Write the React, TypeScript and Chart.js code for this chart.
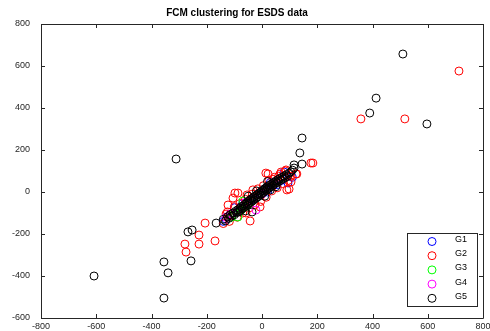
import React, { useEffect, useRef } from 'react';
import { Chart, registerables } from 'chart.js';

Chart.register(...registerables);

const TITLE = 'FCM clustering for ESDS data';
const X_MIN = -800;
const X_MAX = 800;
const Y_MIN = -600;
const Y_MAX = 800;
const TICK_STEP = 200;

const seriesLabels = ['G1', 'G2', 'G3', 'G4', 'G5'];
const seriesColors = ['#0000ff', '#ff0000', '#00ff00', '#ff00ff', '#000000'];

const g1Points: number[][] = [
  [94, 43], [70, 55], [30, 45], [-10, -5], [-40, -40], [-130, -130], [-100, -75],
  [55, 35], [10, 15], [-70, -55], [110, 70], [80, 95], [-140, -140], [20, 0],
];

const g2Points: number[][] = [
  [713, 576], [358, 348], [517, 348], [184, 138], [126, 86], [98, 14], [22, 86],
  [-98, -5], [-54, -14], [-43, -138], [-123, -119], [-206, -148], [-228, -205],
  [-228, -248], [-279, -248], [-275, -286], [-170, -233], [-123, -62], [-105, -29],
  [-116, -109], [-58, -100], [-87, -5], [-33, 10], [-7, -71], [87, 105], [105, 48],
  [14, 90], [69, 95], [123, 86], [177, 138], [90, 10],
  [-130, -105], [-118, -140], [-100, -70], [-90, -120], [-80, -55], [-70, -100],
  [-60, -35], [-45, -75], [-35, -10], [-25, -60], [-15, 15], [-5, -45], [5, 30],
  [15, -25], [25, 55], [35, 5], [45, 70], [55, 20], [65, 85], [75, 40], [85, 100],
  [95, 55], [105, 75], [40, 60], [60, 75], [-140, -150], [-125, -95],
];

const g3Points: number[][] = [
  [-87, -119], [-69, -43], [-100, -100], [-80, -90], [-60, -70], [-75, -85],
  [-110, -120], [-50, -60],
];

const g4Points: number[][] = [
  [-22, -86], [-130, -120], [-90, -95], [-60, -50], [-30, -30], [0, -10], [20, 20],
  [40, 35], [-115, -105],
];

const g5Points: number[][] = [
  [510, 657], [390, 376], [413, 447], [597, 324], [145, 257], [137, 186], [145, 133],
  [116, 114], [116, 129], [-311, 157], [-608, -400], [-355, -333], [-340, -385],
  [-355, -505], [-257, -328], [-268, -190], [-253, -181], [-166, -148], [-36, -95],
  [-140, -130], [-132, -138], [-125, -118], [-120, -125], [-115, -108], [-110, -115],
  [-105, -100], [-100, -108], [-96, -92], [-92, -98], [-88, -85], [-85, -95],
  [-80, -78], [-78, -88], [-75, -70], [-72, -80], [-68, -66], [-65, -74], [-62, -58],
  [-60, -68], [-56, -52], [-54, -62], [-50, -45], [-48, -55], [-45, -40], [-42, -50],
  [-40, -33], [-36, -44], [-33, -28], [-30, -38], [-27, -22], [-24, -32], [-20, -15],
  [-18, -26], [-15, -10], [-12, -20], [-9, -4], [-6, -14], [-3, 2], [0, -8], [3, 8],
  [5, -2], [8, 14], [10, 4], [13, 18], [16, 9], [18, 24], [21, 14], [24, 30], [27, 20],
  [30, 34], [33, 26], [36, 40], [40, 32], [43, 46], [46, 38], [50, 52], [54, 44],
  [57, 58], [60, 50], [64, 64], [68, 56], [72, 70], [76, 62], [80, 76], [84, 68],
  [88, 82], [92, 74], [98, 90], [104, 96], [110, 104], [-20, 5], [10, -20], [30, 10],
  [-50, -20], [-60, -90], [20, 50], [50, 25],
];

const allSeries = [g1Points, g2Points, g3Points, g4Points, g5Points];

const FONT = '"Liberation Sans", Arial, Helvetica, sans-serif';
const AXIS_COLOR = '#262626';

const boxPlugin = {
  id: 'matlabBox',
  afterDraw(chart: any) {
    const { ctx, chartArea, scales } = chart;
    const { left, right, top, bottom } = chartArea;
    ctx.save();
    ctx.strokeStyle = AXIS_COLOR;
    ctx.lineWidth = 1;
    ctx.beginPath();
    ctx.rect(Math.round(left) + 0.5, Math.round(top) + 0.5, Math.round(right - left), Math.round(bottom - top));
    ctx.stroke();
    const tl = 4;
    ctx.beginPath();
    scales.x.ticks.forEach((t: any) => {
      const px = Math.round(scales.x.getPixelForValue(t.value)) + 0.5;
      ctx.moveTo(px, bottom);
      ctx.lineTo(px, bottom - tl);
      ctx.moveTo(px, top);
      ctx.lineTo(px, top + tl);
    });
    scales.y.ticks.forEach((t: any) => {
      const py = Math.round(scales.y.getPixelForValue(t.value)) + 0.5;
      ctx.moveTo(left, py);
      ctx.lineTo(left + tl, py);
      ctx.moveTo(right, py);
      ctx.lineTo(right - tl, py);
    });
    ctx.stroke();

    // title
    ctx.fillStyle = '#000000';
    ctx.font = `bold 10px ${FONT}`;
    ctx.textAlign = 'center';
    ctx.textBaseline = 'middle';
    ctx.fillText(TITLE, 237, 13);

    // legend
    const lx = 407.5, ly = 233.5, lw = 70, lh = 73;
    ctx.fillStyle = '#ffffff';
    ctx.fillRect(lx, ly, lw, lh);
    ctx.strokeStyle = AXIS_COLOR;
    ctx.strokeRect(lx, ly, lw, lh);
    chart.data.datasets.forEach((ds: any, i: number) => {
      const cy = 241.5 + i * 14.2;
      ctx.beginPath();
      ctx.strokeStyle = ds.borderColor;
      ctx.arc(432, cy, 4, 0, Math.PI * 2);
      ctx.stroke();
      ctx.fillStyle = '#000000';
      ctx.font = `9px ${FONT}`;
      ctx.textAlign = 'left';
      ctx.textBaseline = 'middle';
      ctx.fillText(ds.label, 455, cy - 2);
    });
    ctx.restore();
  },
};

export default function App() {
  const canvasRef = useRef<HTMLCanvasElement | null>(null);

  useEffect(() => {
    if (!canvasRef.current) return;
    const chart = new Chart(canvasRef.current, {
      type: 'scatter',
      data: {
        datasets: allSeries.map((pts, i) => ({
          label: seriesLabels[i],
          data: pts.map(([x, y]) => ({ x, y })),
          borderColor: seriesColors[i],
          backgroundColor: 'rgba(0,0,0,0)',
          pointStyle: 'circle',
          pointRadius: 4,
          pointBorderWidth: 1,
          order: 5 - i,
        })),
      },
      options: {
        animation: false,
        responsive: false,
        events: [],
        layout: { padding: { top: 24, right: 7, left: 0, bottom: 0 } },
        plugins: {
          legend: { display: false },
          title: { display: false },
          tooltip: { enabled: false },
        },
        scales: {
          x: {
            type: 'linear',
            min: X_MIN,
            max: X_MAX,
            ticks: {
              stepSize: TICK_STEP,
              font: { size: 9, family: FONT },
              color: AXIS_COLOR,
              padding: 3,
              maxRotation: 0,
            },
            grid: { display: false, drawTicks: false, tickLength: 0 },
            border: { display: false },
            afterFit: (s: any) => {
              s.height = 13;
              s.paddingLeft = 0;
              s.paddingRight = 0;
            },
          },
          y: {
            type: 'linear',
            min: Y_MIN,
            max: Y_MAX,
            ticks: {
              stepSize: TICK_STEP,
              font: { size: 9, family: FONT },
              color: AXIS_COLOR,
              padding: 11,
            },
            grid: { display: false, drawTicks: false, tickLength: 0 },
            border: { display: false },
            afterFit: (s: any) => {
              s.width = 41;
              s.paddingTop = 0;
              s.paddingBottom = 0;
            },
          },
        },
      },
      plugins: [boxPlugin],
    });
    return () => chart.destroy();
  }, []);

  return (
    <div style={{ position: 'absolute', left: 0, top: 0, width: 490, height: 331, background: '#fff' }}>
      <canvas ref={canvasRef} width={490} height={331} style={{ width: 490, height: 331 }} />
    </div>
  );
}
